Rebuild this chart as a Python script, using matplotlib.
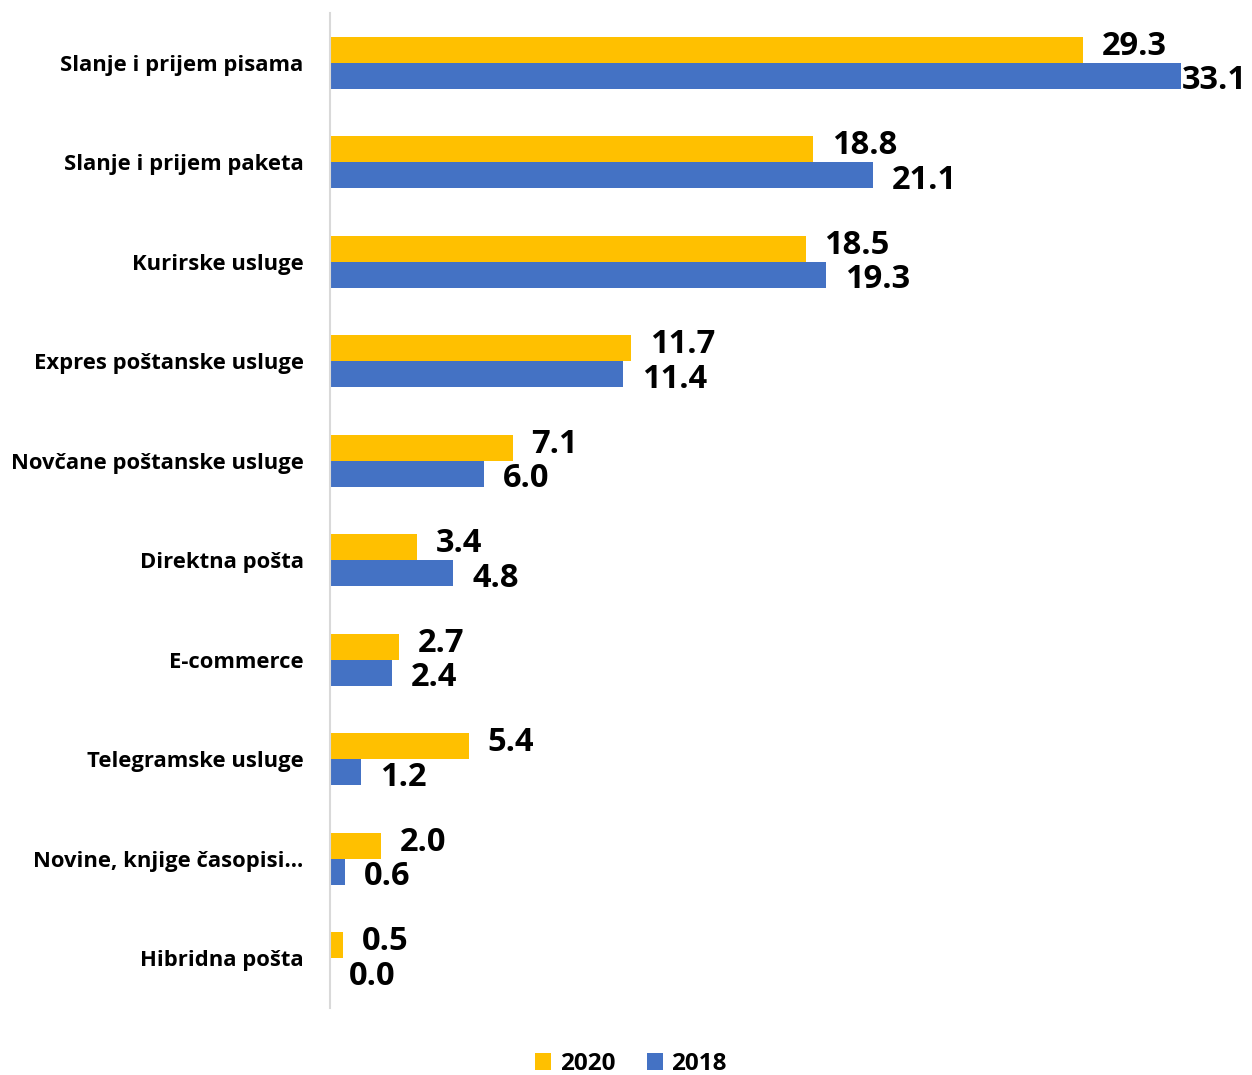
import matplotlib
matplotlib.use("Agg")
import matplotlib.pyplot as plt
import numpy as np

categories = [
    "Slanje i prijem pisama",
    "Slanje i prijem paketa",
    "Kurirske usluge",
    "Expres poštanske usluge",
    "Novčane poštanske usluge",
    "Direktna pošta",
    "E-commerce",
    "Telegramske usluge",
    "Novine, knjige časopisi...",
    "Hibridna pošta",
]
values_2020 = [29.3, 18.8, 18.5, 11.7, 7.1, 3.4, 2.7, 5.4, 2.0, 0.5]
values_2018 = [33.1, 21.1, 19.3, 11.4, 6.0, 4.8, 2.4, 1.2, 0.6, 0.0]

YELLOW = "#FFC000"
BLUE = "#4472C4"
FONT = "Open Sans"

W, H = 1252, 1075
fig = plt.figure(figsize=(W / 100, H / 100), dpi=100)
left, right = 330 / W, 1230 / W
top, bottom = 1 - 13 / H, 1 - 1008 / H
ax = fig.add_axes([left, bottom, right - left, top - bottom])

y = np.arange(len(categories))
bh = 0.26
ax.barh(y - bh / 2, values_2020, height=bh, color=YELLOW, label="2020")
ax.barh(y + bh / 2, values_2018, height=bh, color=BLUE, label="2018")

ax.set_xlim(0, 35)
ax.set_ylim(len(categories) - 0.5, -0.5)
ax.set_yticks(y)
ax.set_yticklabels(categories, fontfamily=FONT, fontweight="bold", fontsize=15.8)
ax.tick_params(axis="y", length=0, pad=19)
ax.set_xticks([])
for s in ["top", "right", "bottom"]:
    ax.spines[s].set_visible(False)
ax.spines["left"].set_color("#D9D9D9")
ax.spines["left"].set_linewidth(1.5)

# value labels; the longest bar's label is pulled in to stay inside the figure
px_per_unit = (1230 - 330) / 35
label_limit = (1248 - 330) / px_per_unit - 2.6
for i in range(len(categories)):
    for v, dy in ((values_2020[i], -2.5), (values_2018[i], 3.5)):
        yc = y[i] - bh / 2 if dy < 0 else y[i] + bh / 2
        off = 13.5
        xpos = v + off / 72 * 100 / px_per_unit
        if xpos > label_limit:
            xpos = v + 1.0 / px_per_unit
        ax.annotate(f"{v:.1f}", xy=(xpos, yc), xytext=(0, -dy),
                    textcoords="offset points", ha="left", va="center",
                    fontfamily=FONT, fontweight="bold", fontsize=23.5,
                    color="black", annotation_clip=False)

leg = fig.legend(loc="center", bbox_to_anchor=(631 / W, 1 - 1064 / H), ncol=2,
                 frameon=False, handlelength=0.65, handleheight=0.65,
                 handletextpad=0.35, columnspacing=1.3, borderpad=0.1,
                 prop={"family": FONT, "weight": "bold", "size": 17.5})

fig.savefig("out.png", dpi=100, facecolor="white")
